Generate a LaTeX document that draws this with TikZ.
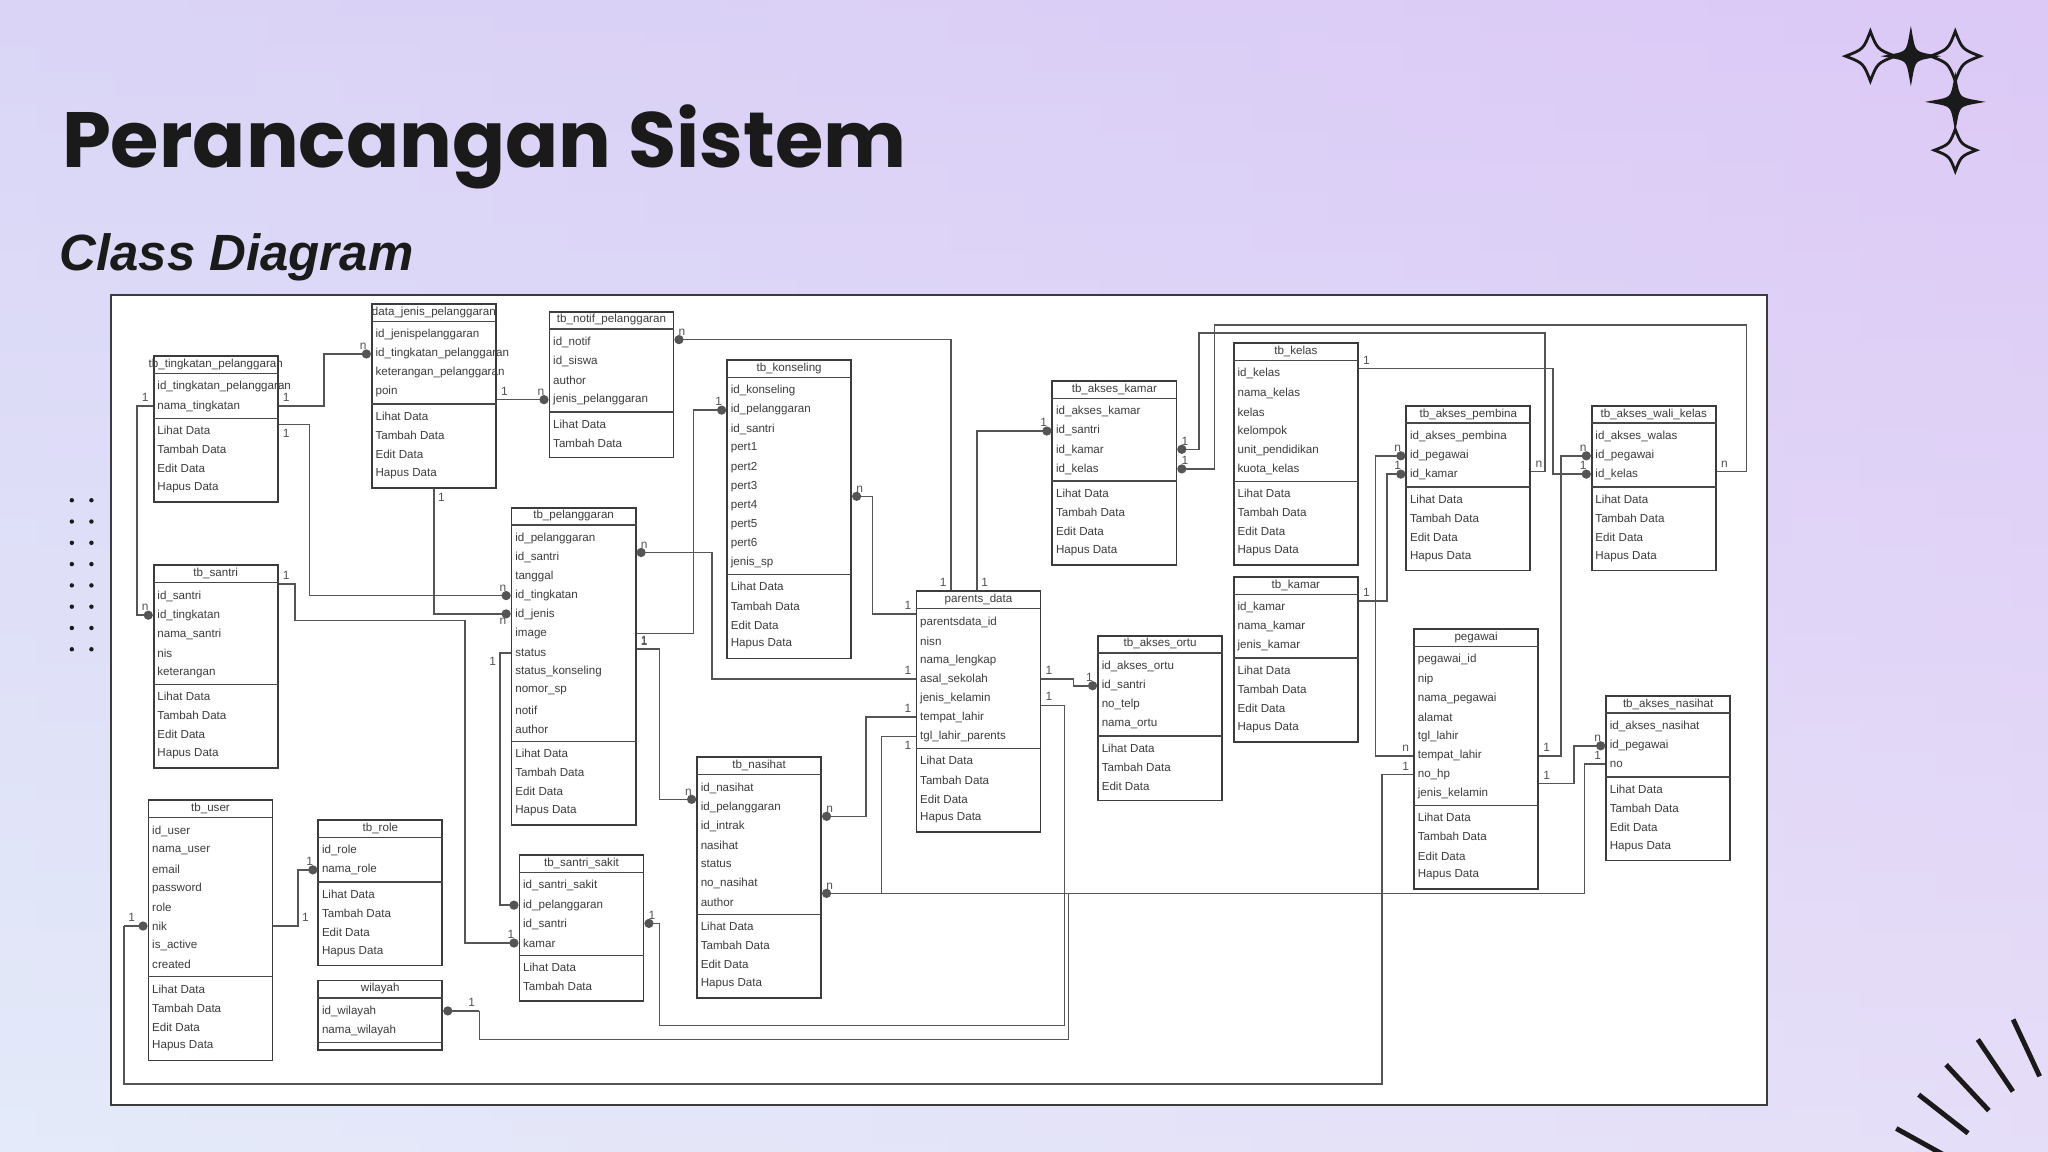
\documentclass[tikz,border=0pt]{standalone}
\usepackage{fontspec}
\setmainfont{Liberation Sans}
\newfontfamily\titlefont{Poppins}
\usetikzlibrary{calc,arrows.meta}
\definecolor{ink}{HTML}{1A1A1A}
\definecolor{bgA}{HTML}{DCC9F6}
\definecolor{bgB}{HTML}{EEF0FA}
\definecolor{bgC}{HTML}{D8E4F8}
\definecolor{lin}{HTML}{555555}
\tikzset{
 x=0.01306cm,y=-0.01306cm,
 cbox/.style={draw=ink!85,line width=0.5pt,fill=white,inner sep=0,rectangle},
 cline/.style={draw=ink!80,line width=0.4pt},
 ctext/.style={anchor=west,inner sep=0,font=\fontsize{3.3}{4}\selectfont,text=ink!85},
 ctitle/.style={inner sep=0,font=\fontsize{3.3}{4}\selectfont,text=ink!85},
 conn/.style={draw=lin,line width=0.45pt},
 dt/.style={conn,-{Circle[length=2.6pt]}},
 ds/.style={conn,{Circle[length=2.6pt]}-},
 ml/.style={inner sep=1pt,font=\fontsize{3.4}{4}\selectfont,text=ink!75},
}
\newcommand\cls[8]{%
 \pgfmathsetmacro\cH{17+#7*14.6+4+#8*14.6+3}%
 \pgfmathsetmacro\cS{17+#7*14.6+2}%
 \node[cbox,minimum width=95*0.01306cm,minimum height=\cH*0.01306cm,anchor=north west] (#1) at (#2,#3) {};
 \node[ctitle] (#1-t) at ($(#1.north)+(0,7)$) {#4};
 \draw[cline] ($(#1.north west)+(0,14)$) -- ($(#1.north east)+(0,14)$);
 \draw[cline] ($(#1.north west)+(0,\cS)$) -- ($(#1.north east)+(0,\cS)$);
 \foreach[count=\i] \a in {#5} \node[ctext] (#1-a\i) at ($(#1.north west)+(3,{9.7+\i*14.6})$) {\a};
 \foreach[count=\i] \a in {#6} \node[ctext] (#1-m\i) at ($(#1.north west)+(3,{\cS+2+(\i-0.5)*14.6})$) {\a};
}
\newcommand\spark[5]{%
 \path[draw=ink,line width=0.8pt,fill=#4] (#1,#2-#3) .. controls (#1+#5*#3,#2-#5*#3) .. (#1+#3,#2) .. controls (#1+#5*#3,#2+#5*#3) .. (#1,#2+#3) .. controls (#1-#5*#3,#2+#5*#3) .. (#1-#3,#2) .. controls (#1-#5*#3,#2-#5*#3) .. cycle;}
\begin{document}
\catcode`\_=12
\begin{tikzpicture}
\useasboundingbox (0,0) rectangle (1568,882);
\shade[top color=bgA,bottom color=bgB] (0,0) rectangle (1568,882);
\shade[left color=bgC,right color=bgA,opacity=0.45] (0,0) rectangle (1568,882);
% titles
\node[anchor=base west,inner sep=0,font=\titlefont\fontsize{22.3}{26}\selectfont\bfseries,text=ink] (title) at (47,128) {Perancangan Sistem};
\node[anchor=base west,inner sep=0,font=\fontsize{14.5}{17}\selectfont\bfseries\itshape,text=ink] (subtitle) at (45,207) {Class Diagram};
% decorations
\spark{1432}{43}{19}{none}{0.28}
\spark{1463}{43}{17}{ink}{0.15}
\spark{1497}{43}{19}{none}{0.28}
\spark{1497}{78}{17}{ink}{0.15}
\spark{1497}{115}{16}{none}{0.28}
\foreach \r in {0,...,7} \foreach \c in {55,70} \fill[ink] (\c,383+\r*16.3) circle (1.7);
\foreach \ang in {200,209,218,227,236,245,254} \draw[ink,line width=1.4pt] ($(1625,960)+(\ang:150)$) -- ($(1625,960)+(\ang:198)$);
% frame
\draw[fill=white,draw=ink!85,line width=0.6pt] (85,226) rectangle (1353,846);
% classes
\cls{tingk}{117}{272}{tb_tingkatan_pelanggaran}{id_tingkatan_pelanggaran,nama_tingkatan}{Lihat Data,Tambah Data,Edit Data,Hapus Data}{2}{4}
\cls{djp}{284}{232}{data_jenis_pelanggaran}{id_jenispelanggaran,id_tingkatan_pelanggaran,keterangan_pelanggaran,poin}{Lihat Data,Tambah Data,Edit Data,Hapus Data}{4}{4}
\cls{notif}{420}{238}{tb_notif_pelanggaran}{id_notif,id_siswa,author,jenis_pelanggaran}{Lihat Data,Tambah Data}{4}{2}
\cls{kons}{556}{275}{tb_konseling}{id_konseling,id_pelanggaran,id_santri,pert1,pert2,pert3,pert4,pert5,pert6,jenis_sp}{Lihat Data,Tambah Data,Edit Data,Hapus Data}{10}{4}
\cls{pel}{391}{388}{tb_pelanggaran}{id_pelanggaran,id_santri,tanggal,id_tingkatan,id_jenis,image,status,status_konseling,nomor_sp,notif,author}{Lihat Data,Tambah Data,Edit Data,Hapus Data}{11}{4}
\cls{santri}{117}{432}{tb_santri}{id_santri,id_tingkatan,nama_santri,nis,keterangan}{Lihat Data,Tambah Data,Edit Data,Hapus Data}{5}{4}
\cls{user}{113}{612}{tb_user}{id_user,nama_user,email,password,role,nik,is_active,created}{Lihat Data,Tambah Data,Edit Data,Hapus Data}{8}{4}
\cls{role}{243}{627}{tb_role}{id_role,nama_role}{Lihat Data,Tambah Data,Edit Data,Hapus Data}{2}{4}
\cls{wil}{243}{750}{wilayah}{id_wilayah,nama_wilayah}{}{2}{0}
\cls{sakit}{397}{654}{tb_santri_sakit}{id_santri_sakit,id_pelanggaran,id_santri,kamar}{Lihat Data,Tambah Data}{4}{2}
\cls{nas}{533}{579}{tb_nasihat}{id_nasihat,id_pelanggaran,id_intrak,nasihat,status,no_nasihat,author}{Lihat Data,Tambah Data,Edit Data,Hapus Data}{7}{4}
\cls{par}{701}{452}{parents_data}{parentsdata_id,nisn,nama_lengkap,asal_sekolah,jenis_kelamin,tempat_lahir,tgl_lahir_parents}{Lihat Data,Tambah Data,Edit Data,Hapus Data}{7}{4}
\cls{akam}{805}{291}{tb_akses_kamar}{id_akses_kamar,id_santri,id_kamar,id_kelas}{Lihat Data,Tambah Data,Edit Data,Hapus Data}{4}{4}
\cls{aort}{840}{486}{tb_akses_ortu}{id_akses_ortu,id_santri,no_telp,nama_ortu}{Lihat Data,Tambah Data,Edit Data}{4}{3}
\cls{kel}{944}{262}{tb_kelas}{id_kelas,nama_kelas,kelas,kelompok,unit_pendidikan,kuota_kelas}{Lihat Data,Tambah Data,Edit Data,Hapus Data}{6}{4}
\cls{kmr}{944}{441}{tb_kamar}{id_kamar,nama_kamar,jenis_kamar}{Lihat Data,Tambah Data,Edit Data,Hapus Data}{3}{4}
\cls{pemb}{1076}{310}{tb_akses_pembina}{id_akses_pembina,id_pegawai,id_kamar}{Lihat Data,Tambah Data,Edit Data,Hapus Data}{3}{4}
\cls{wali}{1218}{310}{tb_akses_wali_kelas}{id_akses_walas,id_pegawai,id_kelas}{Lihat Data,Tambah Data,Edit Data,Hapus Data}{3}{4}
\cls{peg}{1082}{481}{pegawai}{pegawai_id,nip,nama_pegawai,alamat,tgl_lahir,tempat_lahir,no_hp,jenis_kelamin}{Lihat Data,Tambah Data,Edit Data,Hapus Data}{8}{4}
\cls{anas}{1229}{532}{tb_akses_nasihat}{id_akses_nasihat,id_pegawai,no}{Lihat Data,Tambah Data,Edit Data,Hapus Data}{3}{4}
% connectors
\draw[dt] (tingk.east|-0,311) node[ml,above right]{1} -- (248,311) -- (248,271) -- (djp.west|-0,271) node[ml,above left,pos=1]{n};
\draw[dt] (djp.east|-0,306) node[ml,above right]{1} -- (notif.west|-0,306) node[ml,above left]{n};
\draw[dt] (tingk.east|-0,325) node[ml,below right]{1} -- (237,325) -- (237,456) -- (pel.west|-0,456) node[ml,above left]{n};
\draw[dt] (djp.south) node[ml,below right]{1} -- (djp.south|-0,470) -- (pel.west|-0,470) node[ml,below left]{n};
\draw[dt] (tingk.west|-0,311) node[ml,above left]{1} -- (105,311) -- (105,471) -- (santri.west|-0,471) node[ml,above left]{n};
\draw[dt] (santri.east|-0,447) node[ml,above right]{1} -- (226,447) -- (226,475) -- (356,475) -- (356,722) -- (sakit.west|-0,722) node[ml,above left]{1};
\draw[dt] (pel.west|-0,500) -- (383,500) node[ml,below left]{1} -- (383,693) -- (sakit.west|-0,693);
\draw[ds] (sakit.east|-0,707) -- (505,707) node[ml,above left]{1} -- (505,785) -- (815,785) -- (815,540) -- (par.east|-0,540) node[ml,above right]{1};
\draw[conn] (818,684) -- (818,796) -- (367,796) -- (367,774) node[ml,above left]{1};
\draw[dt] (367,774) -- (wil.east|-0,774);
\draw[conn] (peg.west|-0,593) node[ml,above left]{1} -- (1058,593) -- (1058,830) -- (95,830) -- (95,709) node[ml,above right]{1};
\draw[dt] (95,709) -- (user.west|-0,709);
\draw[dt] (user.east|-0,709) -- (228,709) node[ml,above right]{1} -- (228,666) -- (role.west|-0,666) node[ml,above left]{1};
\draw[dt] (par.north-|728,0) node[ml,above left]{1} -- (728,260) -- (notif.east|-0,260) node[ml,above right]{n};
\draw[dt] (pel.east|-0,485) node[ml,below right]{1} -- (531,485) -- (531,314) -- (kons.west|-0,314) node[ml,above left]{1};
\draw[ds] (pel.east|-0,423) node[ml,above right]{n} -- (545,423) -- (545,520) -- (par.west|-0,520) node[ml,above left]{1};
\draw[ds] (kons.east|-0,380) node[ml,above right]{n} -- (668,380) -- (668,470) -- (par.west|-0,470) node[ml,above left]{1};
\draw[dt] (par.north-|748,0) node[ml,above right]{1} -- (748,330) -- (akam.west|-0,330) node[ml,above left]{1};
\draw[dt] (par.east|-0,520) node[ml,above right]{1} -- (822,520) -- (822,525) -- (aort.west|-0,525) node[ml,above left]{1};
\draw[ds] (nas.east|-0,625) node[ml,above right]{n} -- (663,625) -- (663,549) -- (par.west|-0,549) node[ml,above left]{1};
\draw[conn] (par.west|-0,564) node[ml,below left]{1} -- (675,564) -- (675,684);
\draw[dt] (pel.east|-0,497) node[ml,above right]{1} -- (505,497) -- (505,612) -- (nas.west|-0,612) node[ml,above left]{n};
\draw[ds] (nas.east|-0,684) node[ml,above right]{n} -- (1213,684) -- (1213,585) -- (anas.west|-0,585) node[ml,above left]{1};
\draw[dt] (peg.east|-0,600) node[ml,above right]{1} -- (1205,600) -- (1205,571) -- (anas.west|-0,571) node[ml,above left]{n};
\draw[dt] (peg.east|-0,579) node[ml,above right]{1} -- (1195,579) -- (1195,349) -- (wali.west|-0,349) node[ml,above left]{n};
\draw[dt] (kel.east|-0,282) node[ml,above right]{1} -- (1189,282) -- (1189,363) -- (wali.west|-0,363) node[ml,above left]{1};
\draw[dt] (peg.west|-0,579) node[ml,above left]{n} -- (1053,579) -- (1053,349) -- (pemb.west|-0,349) node[ml,above left]{n};
\draw[dt] (kmr.east|-0,460) node[ml,above right]{1} -- (1062,460) -- (1062,363) -- (pemb.west|-0,363) node[ml,above left]{1};
\draw[ds] (akam.east|-0,344) node[ml,above right]{1} -- (918,344) -- (918,255) -- (1183,255) -- (1183,361) -- (pemb.east|-0,361) node[ml,above right]{n};
\draw[ds] (akam.east|-0,359) node[ml,above right]{1} -- (930,359) -- (930,249) -- (1337,249) -- (1337,361) -- (wali.east|-0,361) node[ml,above right]{n};
\end{tikzpicture}
\end{document}
